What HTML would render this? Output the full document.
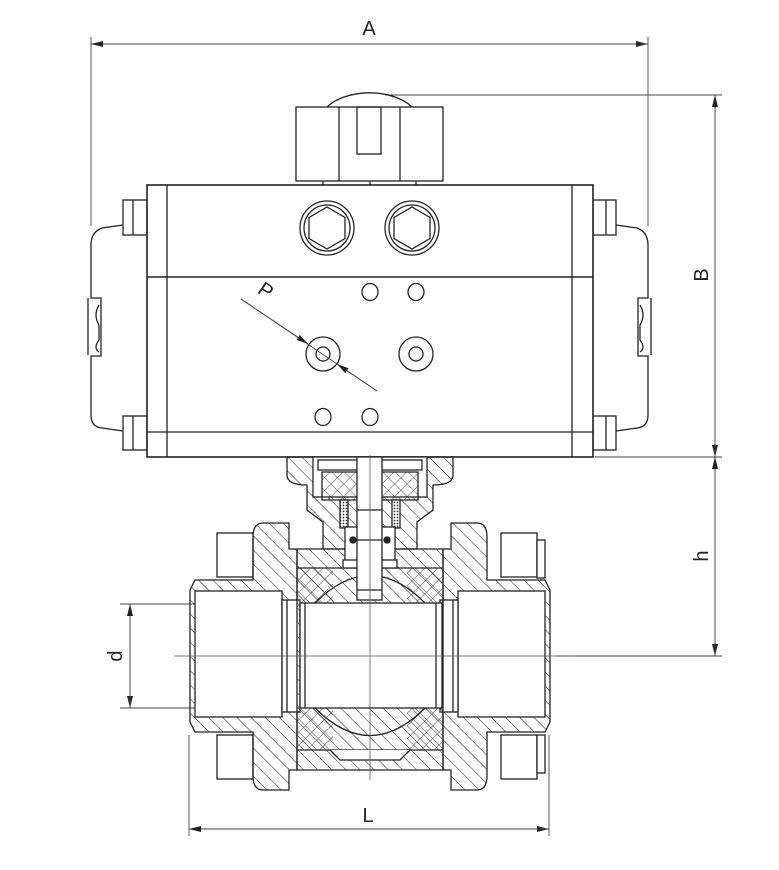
<!DOCTYPE html>
<html><head><meta charset="utf-8"><style>
html,body{margin:0;padding:0;background:#fff;}
svg{display:block;}
text{font-family:"Liberation Sans",sans-serif;fill:#222;}
</style></head><body>
<svg width="779" height="870" viewBox="0 0 779 870" xmlns="http://www.w3.org/2000/svg">
<defs>
<pattern id="h" patternUnits="userSpaceOnUse" width="10" height="10" patternTransform="rotate(-45)">
<line x1="0" y1="0" x2="0" y2="10" stroke="#222" stroke-width="1"/></pattern>
<pattern id="x" patternUnits="userSpaceOnUse" width="9" height="9" patternTransform="rotate(45)">
<line x1="0" y1="0" x2="0" y2="9" stroke="#222" stroke-width="0.8"/><line x1="0" y1="0" x2="9" y2="0" stroke="#222" stroke-width="0.8"/></pattern>
<pattern id="d" patternUnits="userSpaceOnUse" width="3" height="3">
<rect width="3" height="3" fill="#fff"/><circle cx="1.5" cy="1.5" r="0.9" fill="#333"/></pattern>
<marker id="ar" markerWidth="12" markerHeight="8" refX="12" refY="4" orient="auto" markerUnits="userSpaceOnUse">
<path d="M0,1 L12,4 L0,7 Z" fill="#222"/></marker>
</defs>
<g fill="none" stroke="#222" stroke-width="1.3">
<g stroke-width="0.9" stroke="#444">
<line x1="91" y1="37" x2="91" y2="226"/>
<line x1="648" y1="37" x2="648" y2="226"/>
<line x1="385" y1="95" x2="722" y2="95"/>
<line x1="595" y1="457" x2="722" y2="457"/>
<line x1="555" y1="656" x2="722" y2="656"/>
<line x1="120" y1="604" x2="290" y2="604"/>
<line x1="120" y1="708" x2="290" y2="708"/>
<line x1="189" y1="735" x2="189" y2="836"/>
<line x1="549" y1="735" x2="549" y2="836"/>
</g>
<g stroke-width="0.9" stroke="#444">
<line x1="91" y1="44" x2="648" y2="44" marker-end="url(#ar)"/>
<line x1="648" y1="44" x2="91" y2="44" marker-end="url(#ar)"/>
<line x1="715" y1="95" x2="715" y2="457" marker-end="url(#ar)"/>
<line x1="715" y1="457" x2="715" y2="95" marker-end="url(#ar)"/>
<line x1="715" y1="457" x2="715" y2="656" marker-end="url(#ar)"/>
<line x1="715" y1="656" x2="715" y2="457" marker-end="url(#ar)"/>
<line x1="130" y1="604" x2="130" y2="708" marker-end="url(#ar)"/>
<line x1="130" y1="708" x2="130" y2="604" marker-end="url(#ar)"/>
<line x1="189" y1="829" x2="549" y2="829" marker-end="url(#ar)"/>
<line x1="549" y1="829" x2="189" y2="829" marker-end="url(#ar)"/>
</g>

<path d="M327,107 A50,30 0 0 1 412,107"/>
<rect x="296" y="107" width="147" height="74" fill="#fff"/>
<line x1="339" y1="107" x2="339" y2="181"/><line x1="400" y1="107" x2="400" y2="181"/>
<rect x="357" y="107" width="24" height="47"/>
<line x1="323" y1="181" x2="323" y2="185"/><line x1="370" y1="181" x2="370" y2="185"/><line x1="416" y1="181" x2="416" y2="185"/>

<path d="M123,225 L102,228 Q91,232 91,245 L91,298 L101,298 L101,356 L91,356 L91,415 Q91,427 102,428 L123,431"/>
<path d="M88,298 L88,355 M99,305 Q93,315 99,325 L99,340 Q93,348 99,352"/>
<path d="M616,225 L637,228 Q648,232 648,245 L648,298 L638,298 L638,356 L648,356 L648,415 Q648,427 637,428 L616,431"/>
<path d="M651,298 L651,355 M640,305 Q646,315 640,325 L640,340 Q646,348 640,352"/>
<rect x="123" y="200" width="24" height="35" fill="#fff"/><line x1="133" y1="200" x2="133" y2="235"/>
<rect x="123" y="416" width="24" height="34" fill="#fff"/><line x1="133" y1="416" x2="133" y2="450"/>
<rect x="593" y="200" width="23" height="35" fill="#fff"/><line x1="606" y1="200" x2="606" y2="235"/>
<rect x="593" y="416" width="23" height="34" fill="#fff"/><line x1="606" y1="416" x2="606" y2="450"/>

<rect x="147" y="185" width="446" height="272" fill="#fff" stroke-width="1.6"/>
<line x1="167" y1="185" x2="167" y2="457"/><line x1="572" y1="185" x2="572" y2="457"/>
<line x1="147" y1="277" x2="593" y2="277" stroke-width="1.6"/>
<line x1="147" y1="432" x2="593" y2="432"/>
<circle cx="327" cy="228" r="27"/><circle cx="327" cy="228" r="23"/>
<polygon points="327,207 345,217.5 345,238.5 327,249 309,238.5 309,217.5"/>
<circle cx="412" cy="228" r="27"/><circle cx="412" cy="228" r="23"/>
<polygon points="412,207 430,217.5 430,238.5 412,249 394,238.5 394,217.5"/>
<ellipse cx="370" cy="292" rx="8" ry="8.5"/><ellipse cx="416" cy="292" rx="8" ry="8.5"/>
<ellipse cx="323" cy="417" rx="8" ry="8.5"/><ellipse cx="370" cy="417" rx="8" ry="8.5"/>
<circle cx="323" cy="354" r="17"/><circle cx="323" cy="354" r="7"/>
<circle cx="416" cy="354" r="17"/><circle cx="416" cy="354" r="7"/>
<g stroke-width="0.9" stroke="#444">
<line x1="241" y1="299" x2="377" y2="391"/>
<line x1="241" y1="299" x2="308" y2="344" marker-end="url(#ar)"/>
<line x1="377" y1="391" x2="337" y2="364" marker-end="url(#ar)"/>
</g>

<g fill="#fff">
<rect x="217" y="533" width="36" height="44"/><rect x="217" y="735" width="36" height="44"/>
<rect x="501" y="533" width="36" height="44"/><rect x="501" y="735" width="36" height="44"/>
<rect x="537" y="540" width="8" height="38"/><rect x="537" y="735" width="8" height="38"/>
</g>
<path d="M190,590 L195,580 L253,580 L253,537 Q253,523 263,523 L289,523 L289,549 L297,549 L297,770 L289,770 L289,790 L263,790 Q253,790 253,776 L253,732 L195,732 L190,722 Z" fill="url(#h)"/>
<path d="M550,590 L545,580 L487,580 L487,537 Q487,523 477,523 L451,523 L451,549 L443,549 L443,770 L451,770 L451,790 L477,790 Q487,790 487,776 L487,732 L545,732 L550,722 Z" fill="url(#h)"/>
<rect x="195" y="591" width="87" height="126" fill="#fff"/>
<rect x="282" y="600" width="18" height="112" fill="#fff"/>
<line x1="287" y1="600" x2="287" y2="712"/>
<rect x="458" y="591" width="87" height="126" fill="#fff"/>
<rect x="440" y="600" width="18" height="112" fill="#fff"/>
<line x1="453" y1="600" x2="453" y2="712"/>
<path d="M297,549 L443,549 L443,770 L297,770 Z" fill="url(#h)"/>
<rect x="297" y="568" width="36" height="40" fill="url(#x)" stroke="none"/>
<rect x="407" y="568" width="36" height="40" fill="url(#x)" stroke="none"/>
<rect x="297" y="703" width="36" height="47" fill="url(#x)" stroke="none"/>
<rect x="407" y="703" width="36" height="47" fill="url(#x)" stroke="none"/>
<path d="M315,603 Q370,548 425,603" />
<path d="M315,708 Q370,763 425,708" />
<rect x="300" y="603" width="142" height="105" fill="#fff"/>
<line x1="305" y1="603" x2="305" y2="708"/><line x1="436" y1="603" x2="436" y2="708"/>
<line x1="297" y1="568" x2="443" y2="568"/><line x1="297" y1="750" x2="443" y2="750"/>
<path d="M330,750 L340,760 L400,760 L410,750" fill="#fff"/>
<path d="M287,457 L453,457 L453,475 Q453,485 433,485 L433,510 L417,522 L417,549 L323,549 L323,522 L307,510 L307,485 Q287,485 287,475 Z" fill="url(#h)"/>
<rect x="313" y="457" width="114" height="40" fill="#fff"/>
<rect x="318" y="460" width="104" height="10"/>
<path d="M322,472 L418,472 L418,500 L322,500 Z" fill="url(#x)"/>
<rect x="340" y="500" width="8" height="28" fill="url(#d)"/>
<rect x="392" y="500" width="8" height="28" fill="url(#d)"/>
<rect x="345" y="527" width="50" height="35" fill="#fff"/>
<rect x="343" y="560" width="54" height="8" fill="#fff"/>
<rect x="357" y="457" width="25" height="143" fill="#fff"/>
<line x1="357" y1="510" x2="382" y2="510"/><line x1="357" y1="540" x2="382" y2="540"/>
<circle cx="353" cy="540" r="3" fill="#222"/><circle cx="387" cy="540" r="3" fill="#222"/>
<line x1="357" y1="590" x2="382" y2="590"/>
<g stroke-width="0.8" stroke="#555">
<line x1="175" y1="656" x2="570" y2="656"/>
<line x1="370" y1="455" x2="370" y2="780"/>
</g>
</g>
<text x="369" y="35" font-size="20" text-anchor="middle">A</text>
<text x="0" y="0" font-size="20" text-anchor="middle" transform="translate(708,275) rotate(-90)">B</text>
<text x="0" y="0" font-size="20" text-anchor="middle" transform="translate(708,556) rotate(-90)">h</text>
<text x="0" y="0" font-size="20" text-anchor="middle" transform="translate(122,656) rotate(-90)">d</text>
<text x="368" y="822" font-size="20" text-anchor="middle">L</text>
<text x="0" y="0" font-size="20" text-anchor="middle" transform="translate(262,296) rotate(34)">P</text>
</svg>
</body></html>
